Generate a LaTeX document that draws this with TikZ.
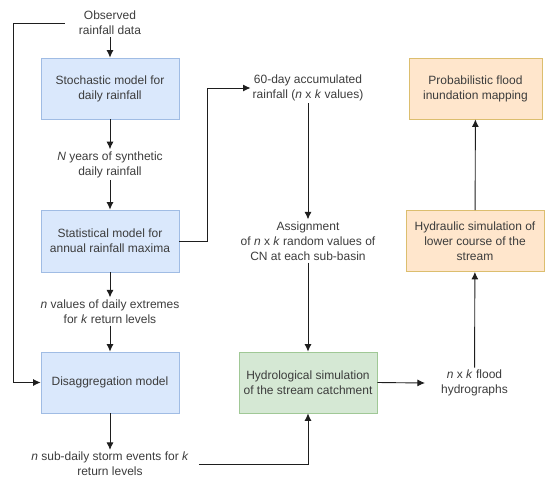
\documentclass[tikz,border=0pt]{standalone}
\usepackage{fontspec}
\setmainfont{Liberation Sans}
\usepackage{xcolor}
\usepackage{tikz}
\usetikzlibrary{arrows.meta}
\definecolor{figline}{RGB}{30,30,30}
\definecolor{figtext}{RGB}{60,60,60}
\definecolor{bluefill}{RGB}{218,232,252}
\definecolor{blueline}{RGB}{160,188,228}
\definecolor{greenfill}{RGB}{213,232,212}
\definecolor{greenline}{RGB}{160,200,150}
\definecolor{orngfill}{RGB}{255,230,204}
\definecolor{orngline}{RGB}{220,190,110}
\tikzset{
  box/.style  ={draw, line width=0.8pt, minimum width=138pt, minimum height=61pt,
                align=center, font=\fontsize{12}{15}\selectfont, text=figtext},
  bbox/.style ={box, fill=bluefill, draw=blueline},
  gbox/.style ={box, fill=greenfill, draw=greenline},
  obox/.style ={box, fill=orngfill, draw=orngline},
  lab/.style  ={align=center, font=\fontsize{12}{15}\selectfont, text=figtext, inner sep=2pt},
  arr/.style  ={draw=figline, line width=0.9pt, -{Latex[length=7.5pt,width=7pt]}},
}

\begin{document}
\begin{tikzpicture}[x=1pt,y=-1pt]
  \useasboundingbox (0,0) rectangle (550,483);
  % left column
  \node[lab] (obs) at (110,23) {Observed\\rainfall data};
  \node[bbox] (stoch) at (110,88.5) {Stochastic model for\\daily rainfall};
  \node[lab] (synth) at (110,164.5) {\textit{N} years of synthetic\\daily rainfall};
  \node[bbox, minimum height=62pt] (stat) at (110,241) {Statistical model for\\annual rainfall maxima};
  \node[lab] (ext) at (110,311.5) {\textit{n} values of daily extremes\\for \textit{k} return levels};
  \node[bbox] (disagg) at (110,382.5) {Disaggregation model};
  \node[lab] (storm) at (110,464) {\textit{n} sub-daily storm events for \textit{k}\\return levels};
  % middle column
  \node[lab] (accum) at (308,88) {60-day accumulated\\rainfall (\textit{n} x \textit{k} values)};
  \node[lab] (assign) at (308,241) {Assignment\\of \textit{n} x \textit{k} random values of\\CN at each sub-basin};
  \node[gbox] (hydro) at (308,382.5) {Hydrological simulation\\of the stream catchment};
  % right column
  \node[lab] (hgraph) at (474.5,383) {\textit{n} x \textit{k} flood\\hydrographs};
  \node[obox] (hydraul) at (475,241) {Hydraulic simulation of\\lower course of the\\stream};
  \node[obox, minimum width=133pt] (prob) at (475.5,88.5) {Probabilistic flood\\inundation mapping};

  \draw[arr] (obs) -- (stoch);
  \draw[arr] (stoch) -- (synth);
  \draw[arr] (synth) -- (stat);
  \draw[arr] (stat) -- (ext);
  \draw[arr] (ext) -- (disagg);
  \draw[arr] (disagg) -- (storm);
  \draw[arr] ([xshift=-12pt]obs.west) -- ++(-51,0) |- (disagg.west);
  \draw[arr] (stat.east) -- ++(28,0) |- (accum.west);
  \draw[arr] (accum) -- (assign);
  \draw[arr] (assign) -- (hydro);
  \draw[arr] ([xshift=8pt]storm.east) -| (hydro.south);
  \draw[arr] (hydro.east) -- ([xshift=-14pt]hgraph.west);
  \draw[arr] (hgraph) -- (hydraul);
  \draw[arr] (hydraul) -- (prob);
\end{tikzpicture}
\end{document}
